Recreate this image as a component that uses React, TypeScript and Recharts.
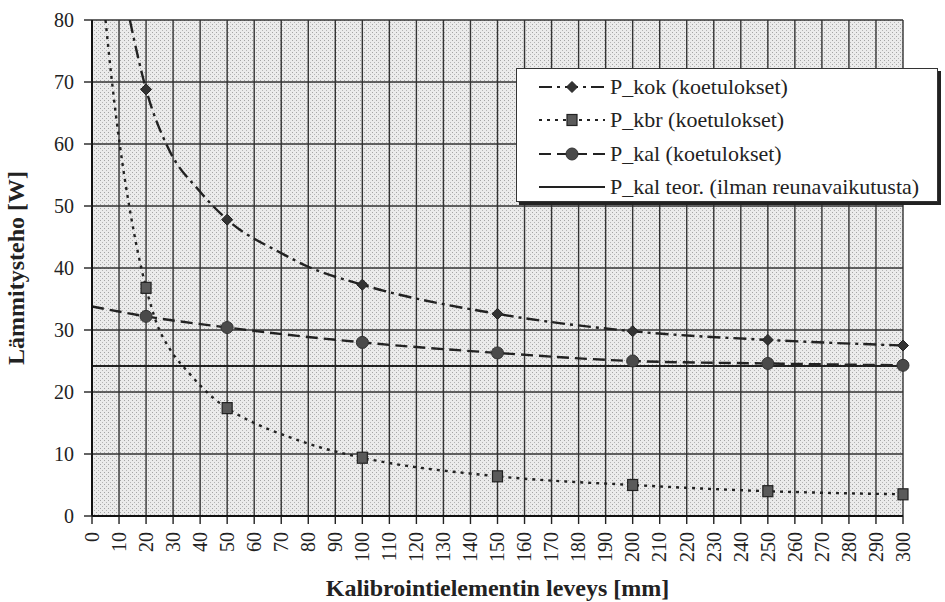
import React from "react";
import {
  ComposedChart,
  Line,
  Scatter,
  XAxis,
  YAxis,
  CartesianGrid,
} from "recharts";

// axis ticks
const X_TICKS = [
  0, 10, 20, 30, 40, 50, 60, 70, 80, 90, 100, 110, 120, 130, 140, 150, 160,
  170, 180, 190, 200, 210, 220, 230, 240, 250, 260, 270, 280, 290, 300,
];
const Y_TICKS = [0, 10, 20, 30, 40, 50, 60, 70, 80];

// measured points (koetulokset)
const MEASURED_X = [20, 50, 100, 150, 200, 250, 300];
const P_KOK = [68.8, 47.8, 37.3, 32.6, 29.8, 28.4, 27.5];
const P_KBR = [36.8, 17.4, 9.4, 6.4, 5.0, 4.0, 3.5];
const P_KAL = [32.2, 30.4, 28.0, 26.3, 25.0, 24.6, 24.3];

// trend curves
const KOK_TREND_X = [14, 20, 28, 40, 50, 70, 80, 100, 150, 200, 250, 300];
const KOK_TREND_Y = [80, 68.8, 59.5, 52.3, 47.8, 42.4, 40.2, 37.3, 32.6, 29.8, 28.4, 27.5];
const KBR_TREND_X = [5, 7.4, 10.4, 14, 20, 24, 29, 36, 45, 50, 60, 70, 85, 100, 150, 200, 250, 300];
const KBR_TREND_Y = [80, 70, 59.5, 49.4, 36.8, 31, 26.8, 23, 19, 17.4, 15.0, 13.2, 11.0, 9.4, 6.4, 5.0, 4.0, 3.5];
const KAL_TREND_X = [0, 20, 50, 100, 150, 200, 250, 300];
const KAL_TREND_Y = [33.8, 32.2, 30.4, 28.0, 26.3, 25.0, 24.6, 24.3];
const TEOR_X = [0, 300];
const TEOR_Y = [24.2, 24.2];

const LEGEND_LABELS = [
  "P_kok (koetulokset)",
  "P_kbr (koetulokset)",
  "P_kal (koetulokset)",
  "P_kal teor. (ilman reunavaikutusta)",
];

const toPoints = (xs: number[], ys: number[]) =>
  xs.map((x, i) => ({ x, y: ys[i] }));

const SERIF =
  "'Liberation Serif', Tinos, 'Times New Roman', Times, 'Noto Serif', 'DejaVu Serif', FreeSerif, serif";
const INK = "#222";

const DASH_KOK = "13 5 3 5";
const DASH_KBR = "3 5";
const DASH_KAL = "12 6";

function Diamond({ cx, cy }: any) {
  if (cx == null || cy == null) return null;
  return (
    <path
      d={`M${cx},${cy - 5.5} L${cx + 5.5},${cy} L${cx},${cy + 5.5} L${cx - 5.5},${cy} Z`}
      fill="#333"
      stroke="#222"
    />
  );
}

function Square({ cx, cy }: any) {
  if (cx == null || cy == null) return null;
  return (
    <rect x={cx - 5} y={cy - 5.5} width={10} height={11} fill="#5a5a5a" stroke="#222" strokeWidth={1.2} />
  );
}

function Dot({ cx, cy }: any) {
  if (cx == null || cy == null) return null;
  return <circle cx={cx} cy={cy} r={6} fill="#4a4a4a" stroke="#333" />;
}

function XTick({ x, y, payload }: any) {
  const ty = y + 6;
  return (
    <text
      x={x}
      y={ty}
      transform={`rotate(-90 ${x} ${ty})`}
      textAnchor="end"
      dy="0.34em"
      style={{ fontFamily: SERIF }}
      fontSize={20}
      fill={INK}
    >
      {payload.value}
    </text>
  );
}

function LegendSample({ idx }: { idx: number }) {
  const dash = [DASH_KOK, DASH_KBR, DASH_KAL, undefined][idx];
  return (
    <svg width={70} height={16} style={{ display: "block" }}>
      <line x1={2} y1={8} x2={68} y2={8} stroke={INK} strokeWidth={2} strokeDasharray={dash} />
      {idx === 0 && <Diamond cx={35} cy={8} />}
      {idx === 1 && <Square cx={35} cy={8} />}
      {idx === 2 && <Dot cx={35} cy={8} />}
    </svg>
  );
}

function ChartLegend() {
  return (
    <div
      style={{
        position: "absolute",
        left: 516,
        top: 68,
        width: 422,
        height: 134,
        boxSizing: "border-box",
        background: "#fff",
        border: "1px solid #333",
        boxShadow: "3px 3px 0 #222",
        fontFamily: SERIF,
        fontSize: 22,
        color: INK,
        paddingTop: 1,
      }}
    >
      {LEGEND_LABELS.map((label, i) => (
        <div
          key={label}
          style={{ display: "flex", alignItems: "center", height: 33.5, paddingLeft: 20 }}
        >
          <LegendSample idx={i} />
          <span style={{ marginLeft: 3, whiteSpace: "nowrap" }}>{label}</span>
        </div>
      ))}
    </div>
  );
}

export default function App() {
  return (
    <div style={{ position: "absolute", left: 0, top: 0, width: 945, height: 602, background: "#fff" }}>
      <svg width={0} height={0} style={{ position: "absolute" }}>
        <defs>
          <pattern id="stipple" width={4} height={4} patternUnits="userSpaceOnUse">
            <rect width={4} height={4} fill="#ebebeb" />
            <rect x={0} y={0} width={1} height={1} fill="#a4a4a4" />
            <rect x={2} y={2} width={1} height={1} fill="#b4b4b4" />
          </pattern>
        </defs>
      </svg>
      <ComposedChart
        width={945}
        height={602}
        margin={{ top: 20, right: 42, bottom: 0, left: 0 }}
      >
        <CartesianGrid
          fill="url(#stipple)"
          fillOpacity={1}
          stroke="#333"
          strokeWidth={1.4}
          strokeDasharray=""
        />
        <XAxis
          type="number"
          dataKey="x"
          domain={[0, 300]}
          ticks={X_TICKS}
          interval={0}
          height={86}
          tickSize={8}
          tick={<XTick />}
          axisLine={{ stroke: "#111", strokeWidth: 2 }}
          tickLine={{ stroke: INK, strokeWidth: 1.4 }}
          label={{
            value: "Kalibrointielementin leveys [mm]",
            position: "insideBottom",
            offset: 6,
            style: { fontFamily: SERIF, fontSize: 24, fontWeight: "bold", fill: INK },
          }}
        />
        <YAxis
          type="number"
          dataKey="y"
          domain={[0, 80]}
          ticks={Y_TICKS}
          interval={0}
          allowDataOverflow
          width={92}
          tickSize={8}
          tickMargin={10}
          tick={{ style: { fontFamily: SERIF }, fontSize: 20, fill: INK }}
          axisLine={{ stroke: "#111", strokeWidth: 2 }}
          tickLine={{ stroke: INK, strokeWidth: 1.4 }}
          label={{
            value: "Lämmitysteho [W]",
            angle: -90,
            position: "insideLeft",
            offset: 15,
            style: { textAnchor: "middle", fontFamily: SERIF, fontSize: 24, fontWeight: "bold", fill: INK },
          }}
        />
        <Line
          data={toPoints(TEOR_X, TEOR_Y)}
          dataKey="y"
          type="linear"
          stroke={INK}
          strokeWidth={2}
          dot={false}
          activeDot={false}
          isAnimationActive={false}
        />
        <Line
          data={toPoints(KAL_TREND_X, KAL_TREND_Y)}
          dataKey="y"
          type="monotone"
          stroke={INK}
          strokeWidth={2.4}
          strokeDasharray={DASH_KAL}
          dot={false}
          activeDot={false}
          isAnimationActive={false}
        />
        <Line
          data={toPoints(KBR_TREND_X, KBR_TREND_Y)}
          dataKey="y"
          type="monotone"
          stroke={INK}
          strokeWidth={2.4}
          strokeDasharray={DASH_KBR}
          dot={false}
          activeDot={false}
          isAnimationActive={false}
        />
        <Line
          data={toPoints(KOK_TREND_X, KOK_TREND_Y)}
          dataKey="y"
          type="monotone"
          stroke={INK}
          strokeWidth={2.4}
          strokeDasharray={DASH_KOK}
          dot={false}
          activeDot={false}
          isAnimationActive={false}
        />
        <Scatter
          data={toPoints(MEASURED_X, P_KAL)}
          dataKey="y"
          shape={<Dot />}
          isAnimationActive={false}
        />
        <Scatter
          data={toPoints(MEASURED_X, P_KBR)}
          dataKey="y"
          shape={<Square />}
          isAnimationActive={false}
        />
        <Scatter
          data={toPoints(MEASURED_X, P_KOK)}
          dataKey="y"
          shape={<Diamond />}
          isAnimationActive={false}
        />
      </ComposedChart>
      <ChartLegend />
    </div>
  );
}
